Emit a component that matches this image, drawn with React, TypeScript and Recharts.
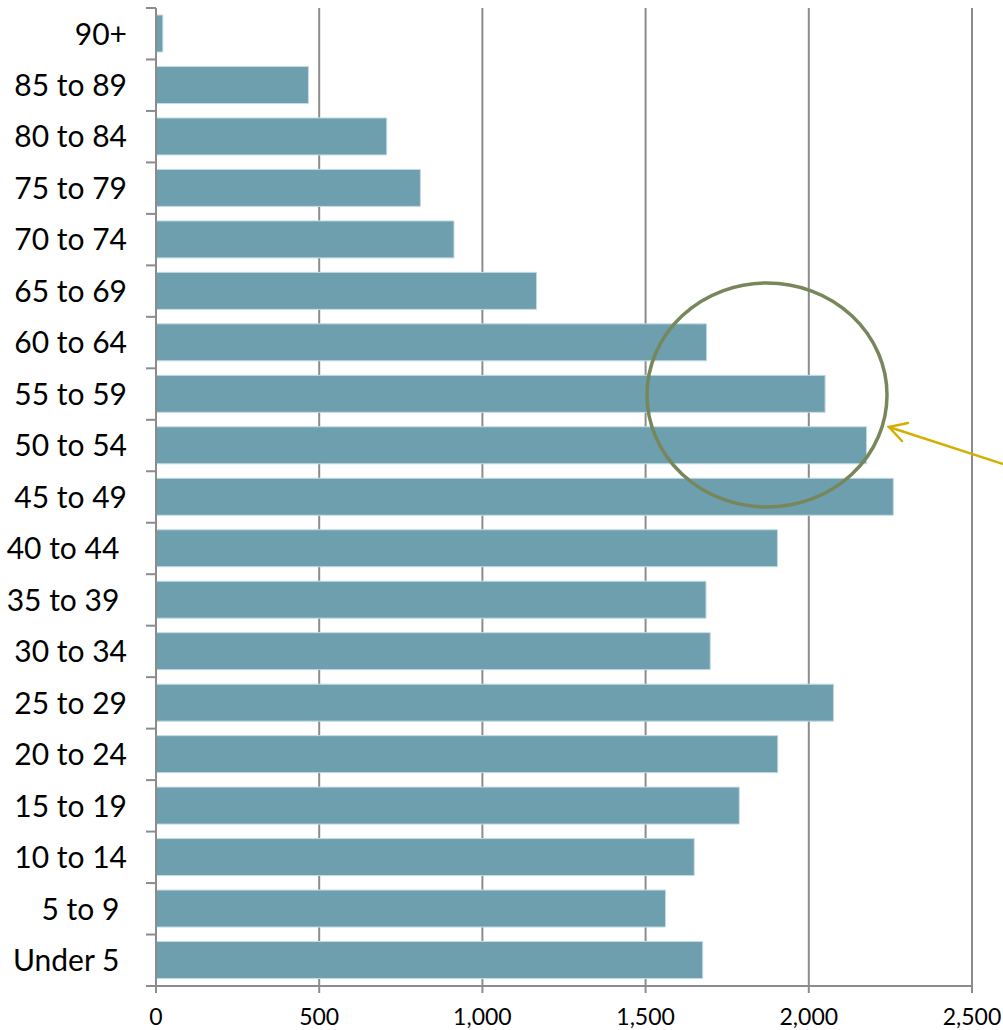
import React from 'react';
import { BarChart, Bar, XAxis, YAxis, CartesianGrid } from 'recharts';

const AGE_GROUPS = [
  '90+', '85 to 89', '80 to 84', '75 to 79', '70 to 74', '65 to 69', '60 to 64',
  '55 to 59', '50 to 54', '45 to 49', '40 to 44\u00a0', '35 to 39\u00a0', '30 to 34',
  '25 to 29', '20 to 24', '15 to 19', '10 to 14', '5 to 9\u00a0', 'Under 5\u00a0',
];
const POPULATION = [
  21, 467, 707, 810, 913, 1166, 1687, 2050, 2177, 2259, 1904, 1685, 1698,
  2076, 1905, 1787, 1649, 1561, 1675,
];
const X_TICKS = [0, 500, 1000, 1500, 2000, 2500];

const data = AGE_GROUPS.map((age, i) => ({ age, value: POPULATION[i] }));

const WIDTH = 1003;
const HEIGHT = 1030;
const MARGIN = { top: 8, right: 31, bottom: 0, left: 0 };
const Y_AXIS_W = 156;
const X_AXIS_H = 44;
const PLOT_TOP = MARGIN.top;
const PLOT_BOTTOM = HEIGHT - MARGIN.bottom - X_AXIS_H;
const BAND = (PLOT_BOTTOM - PLOT_TOP) / AGE_GROUPS.length;
const AXIS_COLOR = '#8c8c8c';
const FONT = 'Lato, "Open Sans", sans-serif';

// Excel-style category tick: label centred in the band, tick marks on band edges
const CategoryTick = (props: any) => {
  const { x, y, payload, index } = props;
  const axisX = Y_AXIS_W;
  const top = y - BAND / 2;
  const bottom = y + BAND / 2;
  const last = index === AGE_GROUPS.length - 1;
  return (
    <g>
      <line x1={axisX - 10} x2={axisX} y1={top} y2={top} stroke={AXIS_COLOR} strokeWidth={2} />
      {last && (
        <line x1={axisX - 10} x2={axisX} y1={bottom} y2={bottom} stroke={AXIS_COLOR} strokeWidth={2} />
      )}
      <text
        x={x}
        y={y}
        dy="0.36em"
        textAnchor="end"
        fill="#000"
        fontSize={30}
        fontFamily={FONT}
      >
        {payload.value}
      </text>
    </g>
  );
};

const App: React.FC = () => {
  return (
    <div style={{ position: 'absolute', left: 0, top: 0, width: WIDTH, height: HEIGHT, background: '#fff' }}>
      <BarChart
        width={WIDTH}
        height={HEIGHT}
        data={data}
        layout="vertical"
        margin={MARGIN}
      >
        <CartesianGrid vertical horizontal={false} stroke={AXIS_COLOR} strokeWidth={2} />
        <XAxis
          type="number"
          domain={[0, 2500]}
          ticks={X_TICKS}
          height={X_AXIS_H}
          tickSize={7}
          tickMargin={16}
          interval={0}
          tickFormatter={(v: number) => v.toLocaleString('en-US')}
          axisLine={{ stroke: AXIS_COLOR, strokeWidth: 2 }}
          tickLine={{ stroke: AXIS_COLOR, strokeWidth: 2 }}
          tick={{ fill: '#000', fontSize: 23, fontFamily: FONT }}
        />
        <YAxis
          type="category"
          dataKey="age"
          width={Y_AXIS_W}
          interval={0}
          tickSize={10}
          tickMargin={19}
          tickLine={false}
          axisLine={{ stroke: AXIS_COLOR, strokeWidth: 2 }}
          tick={<CategoryTick />}
        />
        <Bar
          dataKey="value"
          barSize={37}
          fill="#6e9fae"
          stroke="#c4dce3"
          strokeWidth={1}
          isAnimationActive={false}
        />
      </BarChart>
      <svg
        width={WIDTH}
        height={HEIGHT}
        style={{ position: 'absolute', left: 0, top: 0, pointerEvents: 'none' }}
      >
        <ellipse cx={767} cy={395} rx={120} ry={112} fill="none" stroke="#77875b" strokeWidth={3.5} />
        <g stroke="#d4ae00" strokeWidth={2.5} fill="none" strokeLinecap="round">
          <line x1={1006} y1={465} x2={889} y2={427} />
          <polyline points="908,423 889,427 902,441" />
        </g>
      </svg>
    </div>
  );
};

export default App;
